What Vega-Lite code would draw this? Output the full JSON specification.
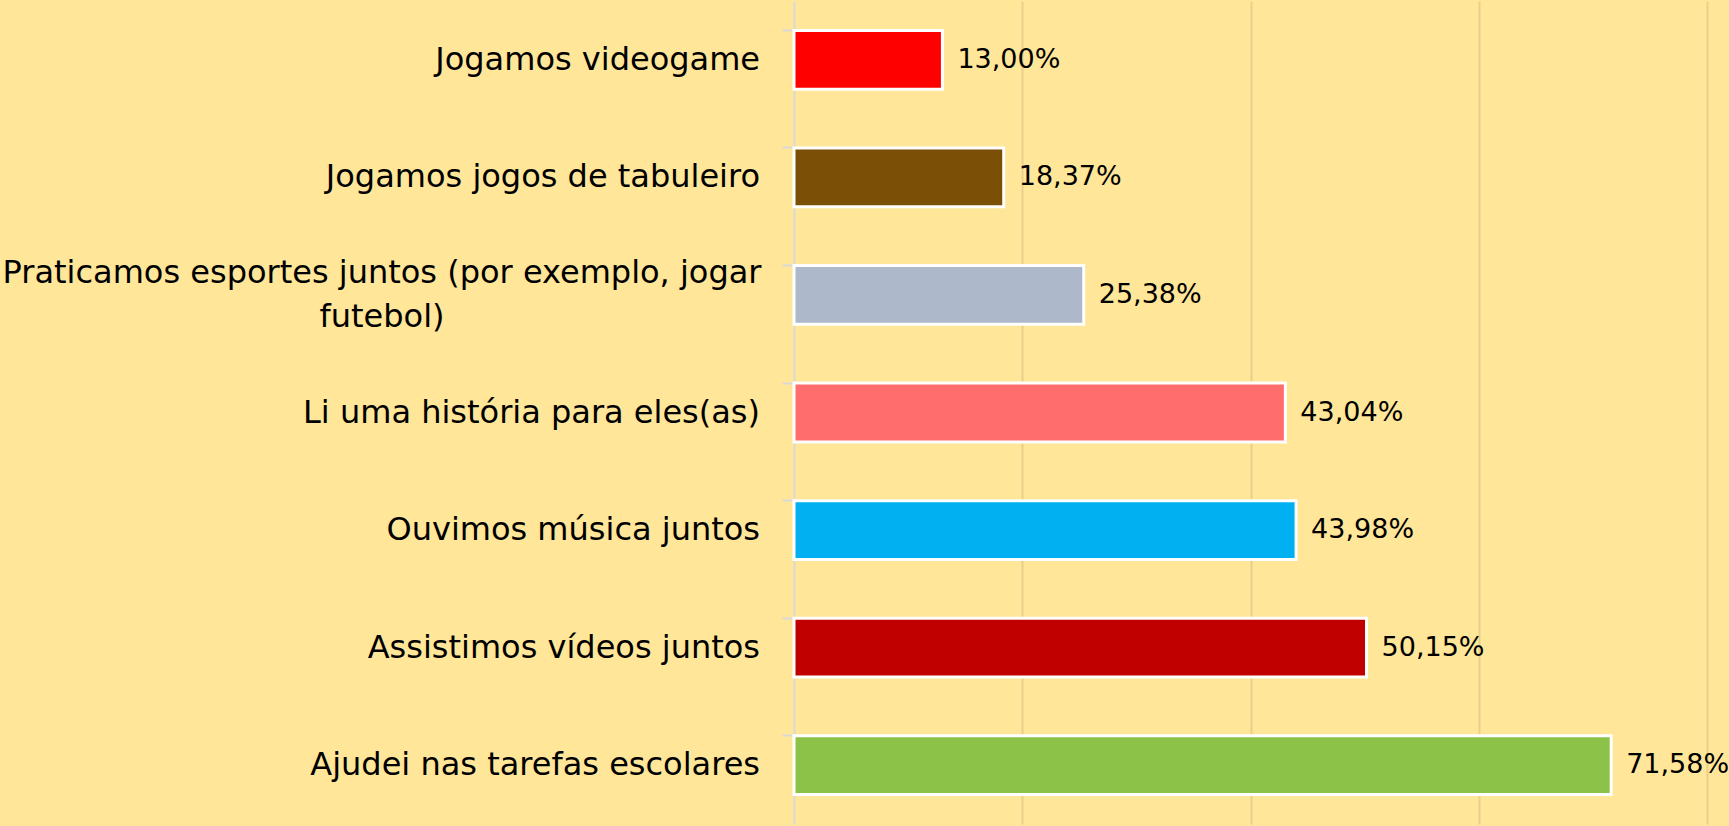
{
  "$schema": "https://vega.github.io/schema/vega-lite/v6.json",
  "width": 935,
  "height": 823,
  "autosize": "none",
  "padding": {"left": 794, "top": 1, "right": 0, "bottom": 2},
  "background": "#FFE699",
  "config": {
    "view": {"stroke": null},
    "locale": {"number": {"decimal": ",", "thousands": ".", "grouping": [3], "currency": ["R$", ""]}},
    "text": {"font": "DejaVu Sans", "fontSize": 32, "color": "#000000"}
  },
  "data": {
    "values": [
      {"label": "Jogamos videogame", "value": 0.13, "color": "#FF0000"},
      {"label": "Jogamos jogos de tabuleiro", "value": 0.1837, "color": "#7B4F06"},
      {"label": "Praticamos esportes juntos (por exemplo, jogar\nfutebol)", "value": 0.2538, "color": "#ADB9CA"},
      {"label": "Li uma história para eles(as)", "value": 0.4304, "color": "#FF6D6D"},
      {"label": "Ouvimos música juntos", "value": 0.4398, "color": "#00B0F0"},
      {"label": "Assistimos vídeos juntos", "value": 0.5015, "color": "#C00000"},
      {"label": "Ajudei nas tarefas escolares", "value": 0.7158, "color": "#8BC247"}
    ]
  },
  "encoding": {
    "y": {
      "field": "label", "type": "nominal", "sort": null,
      "scale": {"paddingInner": 0.5, "paddingOuter": 0.25},
      "axis": {"title": null, "labels": false, "bandPosition": 0, "domainColor": "#D9D9D9", "domainWidth": 2, "tickColor": "#D9D9D9", "tickWidth": 2, "tickSize": 12, "grid": false}
    }
  },
  "layer": [
    {
      "mark": {"type": "bar", "stroke": "#FFFFFF", "strokeWidth": 3},
      "encoding": {
        "x": {
          "field": "value", "type": "quantitative",
          "scale": {"domain": [0, 0.819], "nice": false},
          "axis": {"title": null, "labels": false, "ticks": false, "domain": false, "values": [0.2, 0.4, 0.6, 0.8], "gridColor": "#E6D08C", "gridWidth": 2}
        },
        "color": {"field": "color", "type": "nominal", "scale": null}
      }
    },
    {
      "mark": {"type": "text", "align": "left", "baseline": "middle", "dx": 15, "fontSize": 27},
      "encoding": {
        "x": {"field": "value", "type": "quantitative"},
        "text": {"field": "value", "type": "quantitative", "format": ".2%"}
      }
    },
    {
      "transform": [{"filter": "indexof(datum.label, '\\n') < 0"}],
      "mark": {"type": "text", "align": "right", "baseline": "middle", "dx": -34},
      "encoding": {
        "x": {"datum": 0, "type": "quantitative"},
        "text": {"field": "label"}
      }
    },
    {
      "transform": [{"filter": "indexof(datum.label, '\\n') >= 0"}],
      "mark": {"type": "text", "align": "center", "baseline": "middle", "dx": -412, "dy": -22, "lineBreak": "\n", "lineHeight": 44},
      "encoding": {
        "x": {"datum": 0, "type": "quantitative"},
        "text": {"field": "label"}
      }
    }
  ]
}
